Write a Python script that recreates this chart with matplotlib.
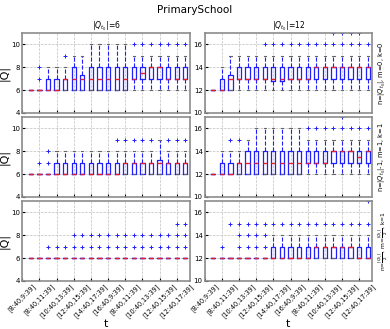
import matplotlib
matplotlib.use("Agg")
import matplotlib.pyplot as plt

# time windows shown on the x axis (every other box)
t_labels = ["[8:40,9:39]", "[8:40,11:39]", "[10:40,13:39]", "[12:40,15:39]",
            "[14:40,17:39]", "[16:40,9:39]", "[8:40,11:39]", "[10:40,13:39]",
            "[12:40,15:39]", "[12:40,17:39]"]

col_titles = [r"$|Q_{t_0}|$=6", r"$|Q_{t_0}|$=12"]
row_labels = [r"n=$|Q_{t_0}|$, m=0, k=0",
              r"n=$|Q_{t_0}|$-1, m=1, k=1",
              r"n=$\frac{|Q_{t_0}|}{2}$, m=$\frac{|Q_{t_0}|}{2}$, k=1"]

# top row, |Q0|=6
tl_med = [6, 6, 6, 6, 7, 7, 7, 7, 7, 7, 7, 7, 7, 7.5, 8, 8, 7, 7, 7]
tl_q1 = [6, 6, 6, 6, 6, 6, 6, 6, 6, 6, 6, 6, 7, 7, 7, 7, 7, 7, 7]
tl_q3 = [6, 6, 7, 7, 7, 8, 7.3, 8, 8, 8, 8, 8, 8, 8, 8, 8, 8, 8, 8]
tl_lo = [6] * 19
tl_hi = [6, 6, 8, 8, 8, 9, 9, 10, 10, 10, 10, 10, 9, 9, 9, 9, 9, 9, 9]
tl_fl = [[], [7, 8], [], [], [9], [], [], [], [], [], [], [],
         [10], [10], [10], [10], [10], [10], [10]]

# top row, |Q0|=12
tr_med = [12, 12, 13, 13, 13, 13, 13, 13, 13, 13, 13, 13, 14, 14, 14, 14, 14, 14, 14]
tr_q1 = [12, 12, 12, 13, 13, 13, 13, 12.8, 12.8, 13, 13, 13, 13, 13, 13, 13, 13, 13, 13]
tr_q3 = [12, 13, 13.3, 14, 14, 14, 14, 14, 14, 14, 14, 14, 14, 14, 14, 14, 14, 14, 14]
tr_lo = [12] * 19
tr_hi = [12, 14, 15, 15, 15, 15, 15, 15, 15, 15, 15, 15, 15, 15, 15, 15, 15, 15, 15]
tr_fl = [[], [], [], [], [], [], [16], [16], [16], [16], [16], [16],
         [16], [16], [16, 17], [16, 17], [16, 17], [16, 17], [16]]

# middle row, |Q0|=6
ml_med = [6, 6, 6, 6, 6, 6, 6, 6, 6, 6, 6, 7, 7, 7, 7, 7, 7, 7, 7]
ml_q1 = [6] * 19
ml_q3 = [6, 6, 6, 7, 7, 7, 7, 7, 7, 7, 7, 7, 7, 7, 7, 7.2, 7, 7, 7]
ml_lo = [6] * 19
ml_hi = [6, 6, 6, 8, 8, 8, 8, 8, 8, 8, 8, 8, 8, 8, 8, 9, 8, 8, 8]
ml_fl = [[], [7], [7, 8], [], [], [], [], [], [], [], [9], [9],
         [9], [9], [9], [], [9], [9], [9]]

# middle row, |Q0|=12
mr_med = [12, 12, 12, 13, 13, 13, 13, 13, 13, 13, 13, 13, 13, 13, 14, 14, 14, 13.5, 14]
mr_q1 = [12, 12, 12, 12, 12, 12, 12, 12, 12, 12, 12, 13, 13, 13, 13, 13, 13, 13, 13]
mr_q3 = [12, 13, 13, 13, 14, 14, 14, 14, 14, 14, 14, 14, 14, 14, 14, 14, 14, 14, 14]
mr_lo = [12] * 19
mr_hi = [12, 14, 14, 14, 15, 16, 16, 16, 16, 16, 16, 15, 15, 15, 15, 15, 15, 15, 15]
mr_fl = [[], [], [15], [15], [], [], [], [], [], [], [], [16],
         [16], [16], [16], [16, 17], [16], [16], [16]]

# bottom row, |Q0|=6
bl_med = [6] * 19
bl_q1 = [6] * 19
bl_q3 = [6] * 19
bl_lo = [6] * 19
bl_hi = [6] * 19
bl_fl = [[], [], [7], [7], [7], [7, 8], [7, 8], [7, 8], [7, 8], [7, 8], [7, 8],
         [7, 8], [7, 8], [7, 8], [7, 8], [7, 8], [7, 8], [7, 8, 9], [7, 8, 9]]

# bottom row, |Q0|=12
br_med = [12] * 12 + [13] * 5 + [12] * 2
br_q1 = [12] * 19
br_q3 = [12] * 7 + [13] * 12
br_lo = [12] * 19
br_hi = [12] * 7 + [14] * 12
br_fl = [[], [13], [15], [13, 14, 15], [13, 14, 15], [13, 14, 15], [13, 14, 15],
         [15], [15], [15], [15], [15], [15], [15], [15], [15], [15], [15], [15, 17]]

panels = [[(tl_med, tl_q1, tl_q3, tl_lo, tl_hi, tl_fl),
           (tr_med, tr_q1, tr_q3, tr_lo, tr_hi, tr_fl)],
          [(ml_med, ml_q1, ml_q3, ml_lo, ml_hi, ml_fl),
           (mr_med, mr_q1, mr_q3, mr_lo, mr_hi, mr_fl)],
          [(bl_med, bl_q1, bl_q3, bl_lo, bl_hi, bl_fl),
           (br_med, br_q1, br_q3, br_lo, br_hi, br_fl)]]

ylims = [(4, 11), (10, 17)]
yticks = [[4, 6, 8, 10], [10, 12, 14, 16]]

fig, axes = plt.subplots(3, 2, figsize=(3.9, 3.29), dpi=100)
fig.subplots_adjust(left=0.057, right=0.954, bottom=0.146, top=0.9,
                    wspace=0.09, hspace=0.05)

for r in range(3):
    for c in range(2):
        ax = axes[r][c]
        med, q1, q3, lo, hi, fl = panels[r][c]
        stats = []
        for i in range(len(med)):
            stats.append(dict(med=med[i], q1=q1[i], q3=q3[i],
                              whislo=lo[i], whishi=hi[i], fliers=fl[i]))
        ax.bxp(stats, positions=range(1, len(med) + 1), widths=0.5,
               boxprops=dict(color="#2020ff", lw=0.9),
               whiskerprops=dict(color="#2020ff", lw=0.8, ls="--"),
               capprops=dict(color="0.4", lw=0.8),
               medianprops=dict(color="#e8202a", lw=1.0),
               flierprops=dict(marker="+", markeredgecolor="#2020ff",
                               markersize=2.5, markeredgewidth=0.7))
        ax.set_xlim(0, 19.5)
        ax.set_ylim(*ylims[c])
        ax.set_yticks(yticks[c])
        ax.set_xticks(range(0, 20, 2))
        ax.grid(True, color="0.75", ls="--", lw=0.5)
        ax.tick_params(labelsize=5, length=2, direction="in", pad=1.5)
        for s in ax.spines.values():
            s.set_color("0.55")
            s.set_linewidth(1.2)
        if r == 2:
            ax.set_xticklabels(t_labels, rotation=45, fontsize=4.7)
            ax.set_xlabel("t", fontsize=8, labelpad=0)
        else:
            ax.set_xticklabels([])
        if c == 0:
            ax.set_ylabel("|Q|", fontsize=8, labelpad=1)
        if r == 0:
            ax.set_title(col_titles[c], fontsize=5.5, pad=3)
        if c == 1:
            fs = 4.3 if r == 2 else 4.8
            ax.text(1.03, 0.5, row_labels[r], transform=ax.transAxes,
                    rotation=90, va="center", ha="left", fontsize=fs)

fig.suptitle("PrimarySchool", fontsize=7.5, y=0.985)
plt.savefig("out.png", dpi=100)
